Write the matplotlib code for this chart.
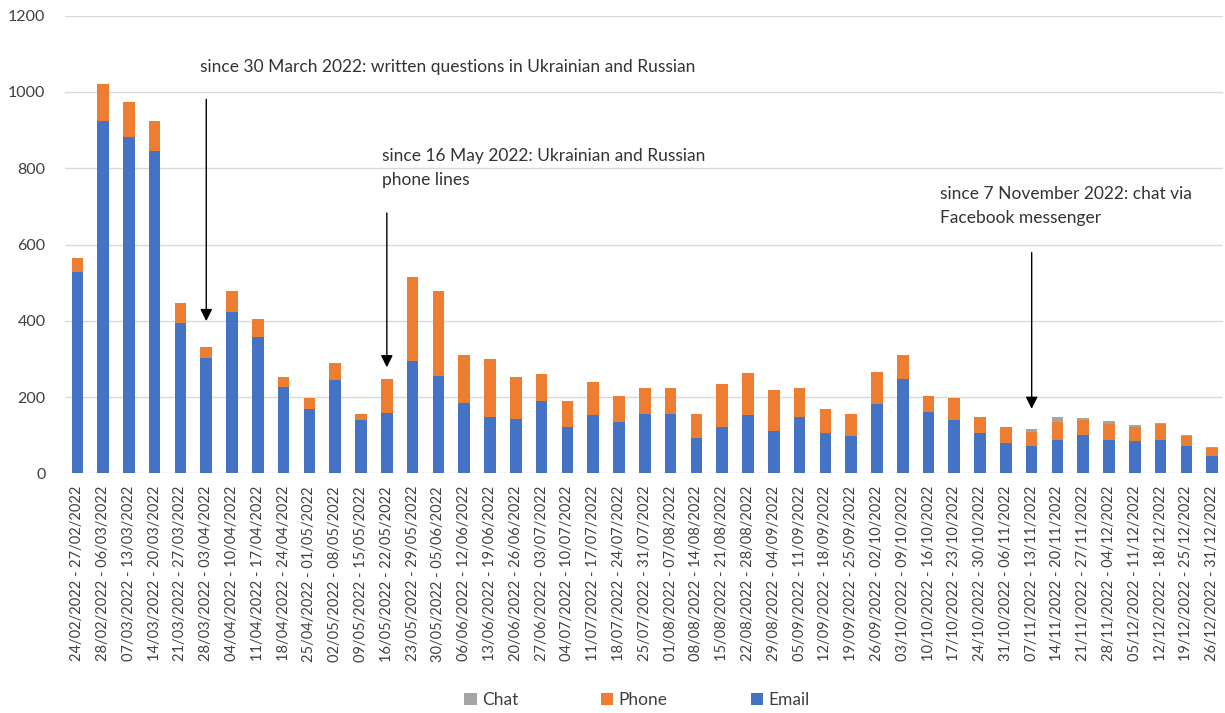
import matplotlib.pyplot as plt
import numpy as np

plt.rcParams['font.family'] = ['Lato', 'DejaVu Sans']

weeks = [
    "24/02/2022 - 27/02/2022", "28/02/2022 - 06/03/2022", "07/03/2022 - 13/03/2022",
    "14/03/2022 - 20/03/2022", "21/03/2022 - 27/03/2022", "28/03/2022 - 03/04/2022",
    "04/04/2022 - 10/04/2022", "11/04/2022 - 17/04/2022", "18/04/2022 - 24/04/2022",
    "25/04/2022 - 01/05/2022", "02/05/2022 - 08/05/2022", "09/05/2022 - 15/05/2022",
    "16/05/2022 - 22/05/2022", "23/05/2022 - 29/05/2022", "30/05/2022 - 05/06/2022",
    "06/06/2022 - 12/06/2022", "13/06/2022 - 19/06/2022", "20/06/2022 - 26/06/2022",
    "27/06/2022 - 03/07/2022", "04/07/2022 - 10/07/2022", "11/07/2022 - 17/07/2022",
    "18/07/2022 - 24/07/2022", "25/07/2022 - 31/07/2022", "01/08/2022 - 07/08/2022",
    "08/08/2022 - 14/08/2022", "15/08/2022 - 21/08/2022", "22/08/2022 - 28/08/2022",
    "29/08/2022 - 04/09/2022", "05/09/2022 - 11/09/2022", "12/09/2022 - 18/09/2022",
    "19/09/2022 - 25/09/2022", "26/09/2022 - 02/10/2022", "03/10/2022 - 09/10/2022",
    "10/10/2022 - 16/10/2022", "17/10/2022 - 23/10/2022", "24/10/2022 - 30/10/2022",
    "31/10/2022 - 06/11/2022", "07/11/2022 - 13/11/2022", "14/11/2022 - 20/11/2022",
    "21/11/2022 - 27/11/2022", "28/11/2022 - 04/12/2022", "05/12/2022 - 11/12/2022",
    "12/12/2022 - 18/12/2022", "19/12/2022 - 25/12/2022", "26/12/2022 - 31/12/2022",
]

email = [528, 924, 883, 845, 395, 303, 423, 357, 227, 170, 244, 140, 159, 295, 255,
         185, 148, 143, 190, 122, 152, 135, 157, 157, 94, 122, 152, 110, 148, 106,
         98, 181, 248, 160, 139, 106, 80, 71, 88, 100, 88, 84, 88, 71, 46]
phone = [37, 96, 91, 79, 53, 28, 54, 49, 26, 28, 46, 16, 89, 221, 222,
         125, 151, 110, 70, 68, 87, 68, 66, 66, 62, 113, 112, 108, 75, 63,
         58, 84, 62, 42, 59, 42, 41, 37, 46, 40, 42, 37, 42, 26, 20]
chat = [0] * 37 + [8, 13, 6, 8, 5, 3, 3, 4]

# (text, text x, text y, arrow x, arrow start, arrow tip)
notes = [
    ("since 30 March 2022: written questions in Ukrainian and Russian", 4.75, 1066, 5, 988, 392),
    ("since 16 May 2022: Ukrainian and Russian\nphone lines", 11.83, 801, 12, 690, 271),
    ("since 7 November 2022: chat via\nFacebook messenger", 33.43, 701, 37, 586, 162),
]

fig = plt.figure(figsize=(12.25, 7.13), dpi=100)
ax = fig.add_axes([0.053, 0.336, 0.945, 0.642])

x = np.arange(len(weeks))
w = 0.45
email = np.array(email)
phone = np.array(phone)
chat = np.array(chat)

b1 = ax.bar(x, email, w, color='#4472C4', label='Email', zorder=3)
b2 = ax.bar(x, phone, w, bottom=email, color='#ED7D31', label='Phone', zorder=3)
b3 = ax.bar(x, chat, w, bottom=email + phone, color='#A5A5A5', label='Chat', zorder=3)

ax.set_ylim(0, 1200)
ax.set_xlim(-0.48, 44.4)
ax.set_yticks(range(0, 1201, 200))
ax.grid(axis='y', color='#D9D9D9', linewidth=1, zorder=0)
for s in ax.spines.values():
    s.set_visible(False)

ax.set_xticks(x)
ax.set_xticklabels(weeks, rotation=90, fontsize=10.5, color='#404040')
ax.tick_params(axis='x', length=0, pad=9)
ax.tick_params(axis='y', length=0, pad=14, labelsize=11.5, labelcolor='#404040')

for txt, tx, ty, ax_x, y0, y1 in notes:
    ax.text(tx, ty, txt, fontsize=12.5, color='#333333', va='center', ha='left',
            linespacing=1.6)
    ax.annotate('', xy=(ax_x, y1), xytext=(ax_x, y0),
                arrowprops=dict(arrowstyle='-|>', color='black', lw=1,
                                mutation_scale=18))

fig.legend(handles=[b3, b2, b1], labels=['Chat', 'Phone', 'Email'],
           loc='center', bbox_to_anchor=(0.52, 0.018), ncol=3, frameon=False,
           fontsize=12.5, handlelength=0.7, handleheight=0.7, handletextpad=0.3,
           columnspacing=4.8, labelcolor='#404040')

fig.savefig('out.png', dpi=100)
